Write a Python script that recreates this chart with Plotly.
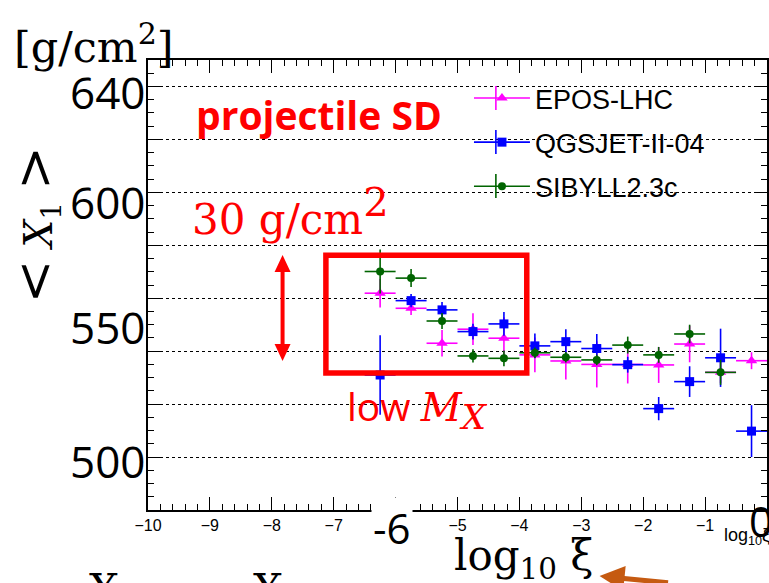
import plotly.graph_objects as go

# ---- data: <X1> versus log10(xi), projectile single diffraction ----
log_xi = [-6.25, -5.75, -5.25, -4.75, -4.25, -3.75, -3.25,
          -2.75, -2.25, -1.75, -1.25, -0.75, -0.25]
bin_half_width = 0.25

epos_lhc = [561.9, 556.2, 543.0, 548.3, 544.9, 538.6, 536.3,
            535.0, 535.0, 534.8, 542.7, 532.0, 536.4]
epos_lhc_err = [5.4, 2.5, 5.0, 6.0, 7.9, 6.6, 7.0,
                8.7, 7.2, 6.8, 6.9, 4.0, 3.2]

qgsjet = [531.0, 559.1, 555.6, 547.4, 550.3, 542.0, 543.6,
          541.0, 534.9, 518.3, 528.5, 537.5, 509.8]
qgsjet_err = [15.0, 2.5, 3.0, 3.0, 4.5, 4.7, 4.7,
              5.5, 3.0, 4.4, 5.8, 11.0, 9.8]

sibyll = [570.1, 567.6, 551.4, 538.2, 537.3, 539.4, 537.7,
          536.7, 542.3, 538.6, 546.5, 532.0, None]
sibyll_err = [8.3, 3.4, 3.0, 2.5, 3.0, 2.0, 2.0,
              2.0, 3.2, 3.0, 3.5, 4.7, None]

y_label_vals = [640, 600, 550, 500]
y_label_text = ["640", "600", "550", "500"]
x_tick_vals = [-10, -9, -8, -7, -6, -5, -4, -3, -2, -1, 0]

# highlighted low-mass region
box_x = [-7.126, -3.881]
box_y = [531.8, 576.2]

# ---- canvas geometry ----
W, H = 769, 583
ML, MR, MT, MB = 148, 0, 60, 73


def px(x):
    return (x - ML) / (W - ML - MR)


def py(y):
    return (H - MB - y) / (H - MT - MB)


models = [
    ("EPOS-LHC", epos_lhc, epos_lhc_err, "#ff00ff", "triangle-up", 10),
    ("QGSJET-II-04", qgsjet, qgsjet_err, "#0000ff", "square", 9),
    ("SIBYLL2.3c", sibyll, sibyll_err, "#006400", "circle", 8),
]

fig = go.Figure()
for name, vals, errs, col, sym, size in models:
    fig.add_trace(go.Scatter(
        x=log_xi, y=vals, mode="markers", name=name, showlegend=False,
        marker=dict(symbol=sym, size=size, color=col, line=dict(width=0)),
        error_x=dict(type="constant", value=bin_half_width, width=0,
                     thickness=1.6, color=col),
        error_y=dict(type="data", array=errs, width=0, thickness=1.6, color=col),
    ))
for name, vals, errs, col, sym, size in models:
    fig.add_trace(go.Scatter(
        x=[None], y=[None], mode="lines+markers", name=name,
        line=dict(color=col, width=1.6),
        marker=dict(symbol=sym, size=size, color=col),
        legendgroup=name,
    ))

axis_common = dict(
    showline=True, linecolor="black", linewidth=2, mirror="ticks",
    ticks="inside", tickcolor="black", zeroline=False,
)

fig.update_xaxes(
    range=[-10, 0], tickvals=x_tick_vals, ticklen=13, tickwidth=1,
    minor=dict(dtick=0.2, ticks="inside", ticklen=6, tickcolor="black"),
    showgrid=False,
    tickfont=dict(family="Liberation Sans", size=16, color="black"),
    **axis_common,
)
fig.update_yaxes(
    range=[480, 650], dtick=20, tick0=0, ticklen=13, tickwidth=1,
    minor=dict(dtick=5, ticks="inside", ticklen=6, tickcolor="black"),
    showgrid=True, gridcolor="black", gridwidth=1, griddash="dot",
    showticklabels=False,
    **axis_common,
)

shapes = []
annotations = []

# large y labels (the 600 label sits a little below its grid line)
label_shift = [-6, -10, -2, -4]
for v, t, s in zip(y_label_vals, y_label_text, label_shift):
    annotations.append(dict(
        x=px(147), y=v, xref="paper", yref="y", text=t, showarrow=False,
        xanchor="right", yanchor="middle", yshift=s,
        font=dict(family="Open Sans", size=44, color="black"),
    ))

# axis titles
annotations.append(dict(
    x=px(35), y=py(225), xref="paper", yref="paper",
    text="<span style='font-size:52px'>&lt;</span> <i>X</i><sub>1</sub> "
         "<span style='font-size:52px'>&gt;</span>",
    textangle=-90, showarrow=False, xanchor="center", yanchor="middle",
    font=dict(family="DejaVu Serif", size=39, color="black"),
))
annotations.append(dict(
    x=px(12), y=py(74), xref="paper", yref="paper",
    text="[g/cm<sup>2</sup>]", showarrow=False, xanchor="left", yanchor="bottom",
    font=dict(family="DejaVu Serif", size=43, color="black"),
))
annotations.append(dict(
    x=px(453), y=py(558), xref="paper", yref="paper",
    text="log<sub>10</sub> ξ", showarrow=False, xanchor="left", yanchor="middle",
    font=dict(family="DejaVu Serif", size=42, color="black"),
))
annotations.append(dict(
    x=px(724), y=py(536), xref="paper", yref="paper",
    text="log<sub>10</sub>ξ", showarrow=False, xanchor="left", yanchor="middle",
    font=dict(family="Liberation Sans", size=18, color="black"),
))
annotations.append(dict(
    x=px(393), y=py(527), xref="paper", yref="paper", text="-6",
    showarrow=False, xanchor="center", yanchor="middle", bgcolor="white",
    font=dict(family="Open Sans", size=42, color="black"),
))
annotations.append(dict(
    x=px(763), y=py(520), xref="paper", yref="paper", text="0",
    showarrow=False, xanchor="center", yanchor="middle",
    font=dict(family="Open Sans", size=42, color="black"),
))
for xc in (104, 268):
    annotations.append(dict(
        x=px(xc), y=py(563), xref="paper", yref="paper", text="X",
        showarrow=False, xanchor="center", yanchor="top",
        font=dict(family="DejaVu Serif", size=42, color="black"),
    ))

# red overlays
annotations.append(dict(
    x=px(194), y=py(114), xref="paper", yref="paper", text="<b>projectile SD</b>",
    showarrow=False, xanchor="left", yanchor="middle",
    font=dict(family="Open Sans", size=39, color="#ff0000"),
))
annotations.append(dict(
    x=px(190), y=py(212), xref="paper", yref="paper",
    text="30 g/cm<sup><span style='font-size:40px'>2</span></sup>",
    showarrow=False, xanchor="left", yanchor="middle",
    font=dict(family="DejaVu Serif", size=42, color="#ff0000"),
))
annotations.append(dict(
    x=px(346), y=py(408), xref="paper", yref="paper",
    text="low <span style='font-family:DejaVu Serif;font-size:40px'><i>M</i></span>"
         "<sub><span style='font-family:DejaVu Serif;font-size:34px'><i>X</i></span></sub>",
    showarrow=False, xanchor="left", yanchor="middle",
    font=dict(family="Open Sans", size=39, color="#ff0000"),
))

shapes.append(dict(
    type="rect", xref="x", yref="y", x0=box_x[0], x1=box_x[1],
    y0=box_y[0], y1=box_y[1], line=dict(color="#ff0000", width=5.5),
))
# double-headed scale arrow
ax_c = px(283)
shapes.append(dict(type="line", xref="paper", yref="paper",
                   x0=ax_c, x1=ax_c, y0=py(268), y1=py(348),
                   line=dict(color="#ff0000", width=4)))
shapes.append(dict(type="path", xref="paper", yref="paper",
                   path=f"M {px(283)} {py(255)} L {px(275)} {py(272)} L {px(291)} {py(272)} Z",
                   fillcolor="#ff0000", line=dict(width=0)))
shapes.append(dict(type="path", xref="paper", yref="paper",
                   path=f"M {px(283)} {py(361)} L {px(275)} {py(344)} L {px(291)} {py(344)} Z",
                   fillcolor="#ff0000", line=dict(width=0)))

# vertical strokes of the legend error-bar symbols
for (name, vals, errs, col, sym, size), yc in zip(models, (98, 142, 186)):
    shapes.append(dict(type="line", xref="paper", yref="paper",
                       x0=px(497), x1=px(497), y0=py(yc - 12), y1=py(yc + 12),
                       line=dict(color=col, width=1.6)))

# orange pointer towards the axis title
annotations.append(dict(
    x=px(601), y=py(576), xref="paper", yref="paper", text="",
    showarrow=True, axref="pixel", ayref="pixel", ax=70, ay=26,
    arrowhead=2, arrowsize=1.0, arrowwidth=5, arrowcolor="#c55a11",
))

fig.update_layout(
    width=W, height=H,
    margin=dict(l=ML, r=MR, t=MT, b=MB, pad=0),
    paper_bgcolor="white", plot_bgcolor="white",
    shapes=shapes, annotations=annotations,
    legend=dict(
        x=px(470), y=py(74), xanchor="left", yanchor="top",
        font=dict(family="Liberation Sans", size=27, color="black"),
        bgcolor="rgba(0,0,0,0)", itemwidth=56, tracegroupgap=6,
    ),
    showlegend=True,
)

fig.write_html("out.html")
